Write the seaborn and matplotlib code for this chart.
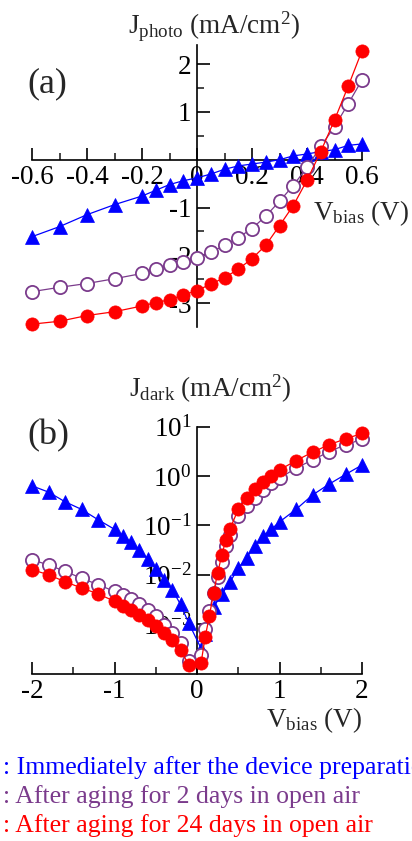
import numpy as np
import pandas as pd
import seaborn as sns
import matplotlib.pyplot as plt

# ---- data ----
# (a) photocurrent, linear scale
v_photo = [-0.6, -0.5, -0.4, -0.3, -0.2, -0.15, -0.1, -0.05, 0.0, 0.05, 0.1,
           0.15, 0.2, 0.25, 0.3, 0.35, 0.4, 0.45, 0.5, 0.55, 0.6]
j_photo_fresh = [-1.61, -1.40, -1.15, -0.94, -0.76, -0.64, -0.52, -0.44, -0.38, -0.30, -0.20,
                 -0.13, -0.09, -0.05, 0.0, 0.08, 0.12, 0.17, 0.21, 0.30, 0.33]
j_photo_2d = [-2.76, -2.67, -2.59, -2.49, -2.38, -2.29, -2.21, -2.14, -2.06, -1.94, -1.79,
              -1.63, -1.44, -1.18, -0.87, -0.54, -0.16, 0.28, 0.69, 1.17, 1.67]
j_photo_24d = [-3.44, -3.38, -3.26, -3.18, -3.06, -2.99, -2.93, -2.83, -2.74, -2.60, -2.47,
               -2.29, -2.07, -1.79, -1.38, -0.96, -0.43, 0.17, 0.83, 1.54, 2.28]

# (b) dark current, log scale
v_dark_fresh = [-2.0, -1.8, -1.6, -1.4, -1.2, -1.0, -0.9, -0.8, -0.7, -0.6, -0.5, -0.4, -0.3,
                -0.2, -0.1, 0.05, 0.1, 0.2, 0.3, 0.4, 0.5, 0.6, 0.7, 0.8, 0.9, 1.0, 1.2,
                1.4, 1.6, 1.8, 2.0]
j_dark_fresh = [0.63, 0.47, 0.30, 0.21, 0.13, 0.083, 0.062, 0.045, 0.032, 0.021, 0.013,
                0.0079, 0.0050, 0.0025, 0.00105, 0.00032, 0.00063, 0.0022, 0.0040, 0.0071,
                0.0135, 0.022, 0.038, 0.060, 0.083, 0.117, 0.21, 0.41, 0.68, 1.07, 1.66]

v_dark_aged = [-2.0, -1.8, -1.6, -1.4, -1.2, -1.0, -0.9, -0.8, -0.7, -0.6, -0.5, -0.4, -0.3,
               -0.2, -0.1, 0.05, 0.1, 0.15, 0.2, 0.25, 0.3, 0.35, 0.4, 0.5, 0.6, 0.7, 0.8,
               0.9, 1.0, 1.2, 1.4, 1.6, 1.8, 2.0]
j_dark_2d = [0.020, 0.0158, 0.0117, 0.0085, 0.0063, 0.0046, 0.0039, 0.0032, 0.0025, 0.00195,
             0.00145, 0.00098, 0.00066, 0.00042, 0.000178, 0.00024, 0.00078, 0.0018, 0.0043,
             0.0089, 0.0178, 0.038, 0.063, 0.151, 0.25, 0.36, 0.52, 0.71, 0.89, 1.45, 2.09,
             3.09, 4.27, 5.5]
j_dark_24d = [0.0126, 0.0100, 0.0072, 0.0054, 0.0041, 0.0029, 0.0023, 0.0019, 0.00155, 0.00123,
              0.00091, 0.00065, 0.00047, 0.00030, 0.000151, 0.000166, 0.00056, 0.00145, 0.0043,
              0.0107, 0.025, 0.050, 0.085, 0.21, 0.35, 0.55, 0.76, 1.0, 1.32, 2.04, 3.02,
              4.27, 5.62, 7.24]

xticks_a = [-0.6, -0.4, -0.2, 0.0, 0.2, 0.4, 0.6]
xticklabels_a = ["-0.6", "-0.4", "-0.2", "0", "0.2", "0.4", "0.6"]
yticks_a = [-3, -2, -1, 1, 2]
yticklabels_a = ["-3", "-2", "-1", "1", "2"]
xticks_b = [-2, -1, 0, 1, 2]
xticklabels_b = ["-2", "-1", "0", "1", "2"]
yticks_b = [1e1, 1e0, 1e-1, 1e-2, 1e-3]
yticklabels_b = ["$10^{1}$", "$10^{0}$", "$10^{-1}$", "$10^{-2}$", "$10^{-3}$"]

# the first line runs past the right edge in the original too
legend_lines = [": Immediately after the device preparation",
                ": After aging for 2 days in open air",
                ": After aging for 24 days in open air"]

BLUE = "#0000ff"
PURPLE = "#7b3b8c"
RED = "#ff0000"

sns.set_style("ticks")
plt.rcParams["font.family"] = ["Liberation Serif", "DejaVu Serif"]
plt.rcParams["mathtext.fontset"] = "custom"
plt.rcParams["mathtext.rm"] = "Liberation Serif"
plt.rcParams["mathtext.default"] = "regular"

fig = plt.figure(figsize=(4.12, 8.41), dpi=100)
W, H = 412, 841


def box(x0, y0, x1, y1):
    return [x0 / W, 1 - y1 / H, (x1 - x0) / W, (y1 - y0) / H]


def draw_series(ax, x, y, color, marker, filled):
    df = pd.DataFrame({"v": x, "j": y})
    sns.lineplot(data=df, x="v", y="j", ax=ax, color=color, lw=0.9, sort=False,
                 errorbar=None, marker=marker, markersize=9.5 if marker == "o" else 10,
                 markerfacecolor=color if filled else "white",
                 markeredgecolor=color, markeredgewidth=1.3 if not filled else 0.5,
                 clip_on=False, zorder=3)


def style_axes(ax):
    for s in ["top", "right"]:
        ax.spines[s].set_visible(False)
    for s in ["left", "bottom"]:
        ax.spines[s].set_linewidth(1.2)
        ax.spines[s].set_color("black")
    ax.tick_params(which="major", direction="in", length=9, width=1.2,
                   labelsize=19.5, pad=4, colors="black")
    ax.tick_params(which="minor", direction="in", length=5, width=1.2)
    ax.set_xlabel("")
    ax.set_ylabel("")
    ax.grid(False)


# ---- panel (a) ----
ax1 = fig.add_axes(box(32, 45, 362, 327))
draw_series(ax1, v_photo, j_photo_fresh, BLUE, "^", True)
draw_series(ax1, v_photo, j_photo_2d, PURPLE, "o", False)
draw_series(ax1, v_photo, j_photo_24d, RED, "o", True)
ax1.set_xlim(-0.6, 0.6)
ax1.set_ylim(-3.5, 2.4)
ax1.spines["left"].set_position(("data", 0))
ax1.spines["bottom"].set_position(("data", 0))
style_axes(ax1)
ax1.set_xticks(xticks_a)
ax1.set_xticklabels(xticklabels_a)
ax1.set_xticks([-0.5, -0.3, -0.1, 0.1, 0.3, 0.5], minor=True)
ax1.set_yticks(yticks_a)
ax1.set_yticklabels(yticklabels_a)
ax1.set_yticks([-2.5, -1.5, -0.5, 0.5, 1.5], minor=True)

fig.text(214 / W, 1 - 27 / H, r"J$_{photo}$ (mA/cm$^{2}$)", ha="center", va="center", fontsize=19.5)
fig.text(27 / W, 1 - 84 / H, "(a)", ha="left", va="center", fontsize=26)
fig.text(313 / W, 1 - 213 / H, r"V$_{bias}$ (V)", ha="left", va="center", fontsize=19.5)

# ---- panel (b) ----
ax2 = fig.add_axes(box(32, 426.5, 362, 673.5))
ax2.set_yscale("log")
draw_series(ax2, v_dark_fresh, j_dark_fresh, BLUE, "^", True)
draw_series(ax2, v_dark_aged, j_dark_2d, PURPLE, "o", False)
draw_series(ax2, v_dark_aged, j_dark_24d, RED, "o", True)
ax2.set_xlim(-2, 2)
ax2.set_ylim(1e-4, 10)
ax2.spines["left"].set_position(("data", 0))
style_axes(ax2)
ax2.set_xticks(xticks_b)
ax2.set_xticklabels(xticklabels_b)
ax2.set_xticks([-1.5, -0.5, 0.5, 1.5], minor=True)
ax2.set_yticks(yticks_b)
ax2.set_yticklabels(yticklabels_b)
ax2.yaxis.set_minor_locator(plt.NullLocator())

fig.text(210 / W, 1 - 389 / H, r"J$_{dark}$ (mA/cm$^{2}$)", ha="center", va="center", fontsize=19.5)
fig.text(27 / W, 1 - 436 / H, "(b)", ha="left", va="center", fontsize=26)
fig.text(362 / W, 1 - 720 / H, r"V$_{bias}$ (V)", ha="right", va="center", fontsize=19.5)

# ---- colour key (text only) ----
for txt, col, yc in zip(legend_lines, [BLUE, PURPLE, RED], [768, 797, 826]):
    fig.text(3 / W, 1 - yc / H, txt, color=col, ha="left", va="center", fontsize=18.5)

fig.savefig("out.png", dpi=100)
